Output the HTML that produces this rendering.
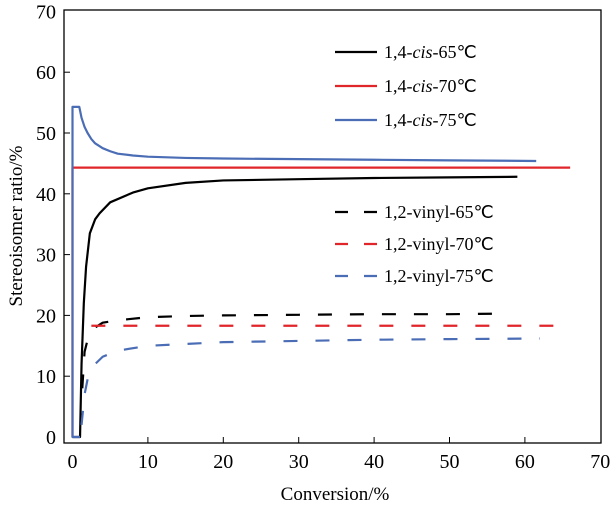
<!DOCTYPE html>
<html><head><meta charset="utf-8"><style>
body{margin:0;background:#fff}
svg{display:block;font-family:"Liberation Serif",serif}
</style></head><body>
<svg id="chart" width="613" height="509" viewBox="0 0 613 509">
<rect x="64" y="10" width="537" height="433" fill="none" stroke="#000" stroke-width="1.3"/>
<g id="ticks"></g>
<g id="series"></g>
<text x="335" y="500" font-size="19" text-anchor="middle">Conversion/%</text>
<text transform="translate(22,226) rotate(-90)" font-size="19" text-anchor="middle">Stereoisomer ratio/%</text>
<g id="legend"></g>
</svg>
<script>
const xTicks=[0,10,20,30,40,50,60,70];
const yTicks=[0,10,20,30,40,50,60,70];
const cis65X=[0,1.0,1.2,1.5,1.8,2.3,3,3.6,5,8,10,15,20,30,40,50,59];
const cis65Y=[0,0,12,22,28,33.5,35.8,36.8,38.6,40.2,40.9,41.8,42.2,42.4,42.6,42.7,42.8];
const cis70X=[0,0,66];
const cis70Y=[0,44.3,44.3];
const cis75X=[1.0,0,0,0.9,1.2,1.6,2,2.5,3,4,5,6,8,10,15,20,30,40,50,61.5];
const cis75Y=[0,0,54.3,54.3,52.5,51,50,49,48.3,47.5,47,46.6,46.3,46.1,45.9,45.8,45.7,45.6,45.5,45.4];
const vin65X=[1.3,1.6,2,3,4,6,10,15,20,30,40,50,58];
const vin65Y=[8,14,16,18,18.8,19.2,19.7,19.9,20,20.1,20.2,20.2,20.3];
const vin70X=[2.5,65.5];
const vin70Y=[18.3,18.3];
const vin75X=[1.2,1.6,2,3,4,6,10,15,20,30,40,50,62];
const vin75Y=[2,7,9.5,12,13.2,14.2,15,15.3,15.6,15.8,16,16.1,16.2];
const sx=v=>72.5+v*7.54;
const sy=v=>437-v*6.08;
const NS="http://www.w3.org/2000/svg";
const ticks=document.getElementById('ticks');
xTicks.forEach(t=>{
  if(t>0&&t<70){const l=document.createElementNS(NS,'line');
  l.setAttribute('x1',sx(t));l.setAttribute('x2',sx(t));l.setAttribute('y1',443);l.setAttribute('y2',437);l.setAttribute('stroke','#000');
  
  
  ticks.appendChild(l);}
  const tx=document.createElementNS(NS,'text');
  tx.setAttribute('x',sx(t));tx.setAttribute('y',468);tx.setAttribute('font-size','20');tx.setAttribute('text-anchor','middle');tx.textContent=t;
  
  
  ticks.appendChild(tx);
});
yTicks.forEach(t=>{
  if(t>0&&t<70){const l=document.createElementNS(NS,'line');
  l.setAttribute('x1',64);l.setAttribute('x2',70);l.setAttribute('y1',sy(t));l.setAttribute('y2',sy(t));l.setAttribute('stroke','#000');
  
  
  ticks.appendChild(l);}
  const tx=document.createElementNS(NS,'text');
  tx.setAttribute('x',56);tx.setAttribute('y',sy(t)+7);tx.setAttribute('font-size','20');tx.setAttribute('text-anchor','end');tx.textContent=t;
  
  
  ticks.appendChild(tx);
});
const series=document.getElementById('series');
function draw(xs,ys,color,dash,name){
  const p=document.createElementNS(NS,'polyline');
  p.setAttribute('points',xs.map((x,i)=>sx(x)+','+sy(ys[i])).join(' '));
  p.setAttribute('fill','none');p.setAttribute('stroke',color);p.setAttribute('stroke-width','2.2');
  p.setAttribute('stroke-linejoin','round');
  if(dash)p.setAttribute('stroke-dasharray','14 18');
  
  
  series.appendChild(p);
}
const BL='#000',RD='#e0262b',BU='#4a6db5';
draw(cis70X,cis70Y,RD,false,'line-cis-70');
draw(cis65X,cis65Y,BL,false,'line-cis-65');
draw(cis75X,cis75Y,BU,false,'line-cis-75');
draw(vin65X,vin65Y,BL,true,'line-vinyl-65');
draw(vin70X,vin70Y,RD,true,'line-vinyl-70');
draw(vin75X,vin75Y,BU,true,'line-vinyl-75');
const legend=document.getElementById('legend');
const legItems=[["1,4-","cis","-65℃",BL,false,52],["1,4-","cis","-70℃",RD,false,86],["1,4-","cis","-75℃",BU,false,120],
["1,2-vinyl-65℃","","",BL,true,212],["1,2-vinyl-70℃","","",RD,true,244],["1,2-vinyl-75℃","","",BU,true,276]];
legItems.forEach(it=>{
  const g=document.createElementNS(NS,'g');
  
  
  const l=document.createElementNS(NS,'line');
  l.setAttribute('x1',335);l.setAttribute('x2',377);l.setAttribute('y1',it[5]);l.setAttribute('y2',it[5]);
  l.setAttribute('stroke',it[3]);l.setAttribute('stroke-width','2.2');
  if(it[4])l.setAttribute('stroke-dasharray','13 16');
  g.appendChild(l);
  const t=document.createElementNS(NS,'text');
  t.setAttribute('x',384);t.setAttribute('y',it[5]+6);t.setAttribute('font-size','18');
  t.innerHTML=it[0]+(it[1]?'<tspan font-style="italic">'+it[1]+'</tspan>':'')+it[2];
  g.appendChild(t);
  legend.appendChild(g);
});
</script>
</body></html>
